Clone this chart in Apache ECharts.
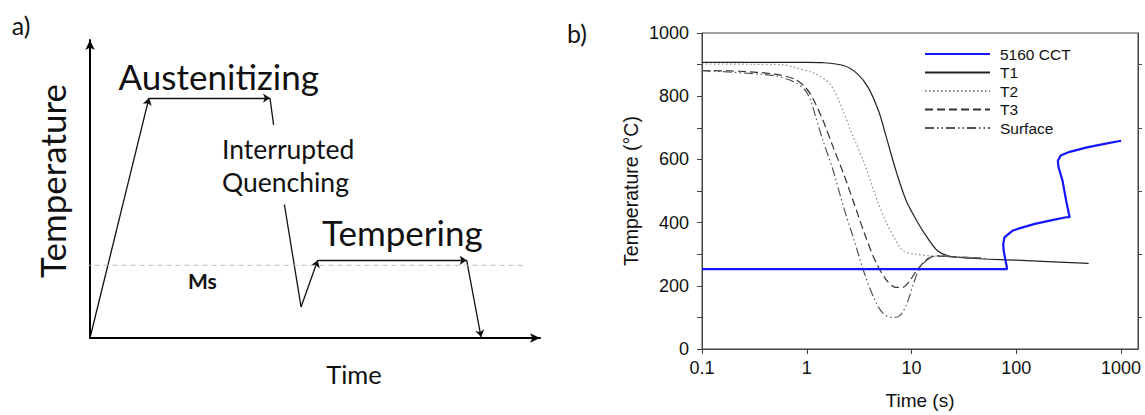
<!DOCTYPE html>
<html>
<head>
<meta charset="utf-8">
<script src="https://cdn.jsdelivr.net/npm/echarts@6/dist/echarts.min.js"></script>
<style>
html,body{margin:0;padding:0;background:#fff;}
#chart{width:1145px;height:415px;}
</style>
</head>
<body>
<div id="chart"></div>
<script>
// ---------- Panel a) schematic (arbitrary units 0..100) ----------
const arrowSegments = [
  [[0, 0], [13.1, 80.5]],
  [[13.1, 80.5], [40, 80.5]],
  [[46.9, 10.4], [50.6, 26.1]],
  [[50.6, 26.1], [83.7, 26.1]],
  [[83.7, 26.1], [86.9, 0.3]]
];
const plainSegments = [
  [[40, 80.5], [40.8, 71.5]],
  [[43.2, 44.8], [46.9, 10.4]]
];
const msLine = [[-3, 24.4], [97, 24.4]];

// ---------- Panel b) cooling curves ----------
const xTickLabels = ['0.1', '1', '10', '100', '1000'];
const seriesNames = ['5160 CCT', 'T1', 'T2', 'T3', 'Surface'];

const cctTime = [0.1, 81.7, 80, 75.7, 75, 77, 91.6, 103, 150, 220, 299, 323, 299, 276, 253, 249, 265, 323, 473, 694, 1000];
const cctTemp = [253, 253, 270, 311, 332, 353, 374, 380, 396, 408, 417, 417, 469, 533, 575, 596, 612, 624, 638, 649, 659];

const t1Time = [0.1, 0.5, 1.0, 1.43, 2.25, 3.06, 3.85, 4.84, 5.64, 7.1, 8.9, 11.2, 14.1, 17.7, 22.3, 32.7, 100, 490];
const t1Temp = [907, 907, 907, 906, 897, 870, 828, 754, 680, 564, 469, 406, 353, 311, 295, 288, 281, 271];

const t2Time = [0.1, 0.3, 0.57, 0.77, 1.22, 1.66, 2.09, 2.63, 3.57, 4.48, 5.64, 7.1, 8.26, 10.4, 15.2, 22.3, 48];
const t2Temp = [902, 901, 900, 891, 870, 839, 775, 691, 585, 490, 406, 343, 311, 301, 295, 293, 288];

const t3Time = [0.1, 0.23, 0.49, 0.77, 0.97, 1.13, 1.43, 1.79, 2.25, 2.84, 3.57, 4.49, 5.64, 7.1, 8.26, 9.6, 11.2, 14.1, 17.7, 22.3, 50];
const t3Temp = [881, 879, 870, 854, 828, 796, 723, 638, 554, 459, 364, 280, 222, 195, 195, 216, 248, 285, 295, 292, 287];

const surfTime = [0.1, 0.49, 0.77, 0.97, 1.09, 1.22, 1.43, 1.79, 2.25, 2.84, 3.57, 4.49, 5.4, 6.6, 7.7, 9.0, 10.4, 12.1, 15.2, 19.2, 24.1, 50];
const surfTemp = [881, 865, 844, 818, 786, 733, 659, 564, 448, 343, 237, 153, 111, 100, 105, 142, 206, 258, 290, 295, 292, 287];

const zip = (a, b) => a.map((v, i) => [v, b[i]]);

const chart = echarts.init(document.getElementById('chart'), null, {renderer: 'svg'});

const schemFont = 'Lato, Carlito, Calibri, sans-serif';
const plotFont = '"Liberation Sans", Arial, sans-serif';

const option = {
  backgroundColor: '#ffffff',
  animation: false,
  grid: [
    {left: 90, top: 40, width: 450, height: 298, show: false},
    {left: 702, top: 33, right: 7, bottom: 66, show: true, borderColor: '#444', borderWidth: 1, backgroundColor: 'transparent'}
  ],
  xAxis: [
    {
      gridIndex: 0, type: 'value', min: 0, max: 100,
      axisLine: {show: true, onZero: false, lineStyle: {color: '#000', width: 2}, symbol: ['none', 'arrow'], symbolSize: [7, 10]},
      axisTick: {show: false}, axisLabel: {show: false}, splitLine: {show: false}
    },
    {
      gridIndex: 1, type: 'log', logBase: 10, min: 0.1, max: 1450,
      axisLine: {show: true, onZero: false, lineStyle: {color: '#444', width: 1}},
      axisTick: {show: true, length: 5, lineStyle: {color: '#444'}},
      splitLine: {show: false},
      axisLabel: {
        color: '#111', fontSize: 18, fontFamily: plotFont, margin: 10,
        showMaxLabel: false,
        formatter: function (v) {
          const e = Math.log10(v);
          if (Math.abs(e - Math.round(e)) > 1e-6) return '';
          const idx = Math.round(e) + 1;
          return xTickLabels[idx] !== undefined ? xTickLabels[idx] : '';
        }
      },
      name: 'Time (s)', nameLocation: 'middle', nameGap: 42,
      nameTextStyle: {color: '#111', fontSize: 19, fontFamily: plotFont}
    }
  ],
  yAxis: [
    {
      gridIndex: 0, type: 'value', min: 0, max: 100,
      axisLine: {show: true, onZero: false, lineStyle: {color: '#000', width: 2}, symbol: ['none', 'arrow'], symbolSize: [7, 10]},
      axisTick: {show: false}, axisLabel: {show: false}, splitLine: {show: false}
    },
    {
      gridIndex: 1, type: 'value', min: 0, max: 1000, interval: 100,
      axisLine: {show: true, onZero: false, lineStyle: {color: '#444', width: 1}},
      axisTick: {show: true, length: 5, lineStyle: {color: '#444'}},
      splitLine: {show: false},
      axisLabel: {
        color: '#111', fontSize: 18, fontFamily: plotFont, margin: 13,
        formatter: function (v) { return v % 200 === 0 ? String(v) : ''; }
      },
      name: 'Temperature (°C)', nameLocation: 'middle', nameGap: 61, nameRotate: 90,
      nameTextStyle: {color: '#111', fontSize: 19.5, fontFamily: plotFont}
    },
    {
      gridIndex: 1, type: 'value', min: 0, max: 1000, interval: 100, position: 'right',
      axisLine: {show: true, onZero: false, lineStyle: {color: '#444', width: 1}},
      axisTick: {show: true, length: 4, lineStyle: {color: '#444'}, customValues: [100, 300, 500, 700, 900]},
      axisLabel: {show: false}, splitLine: {show: false}
    }
  ],
  legend: {
    show: true,
    data: seriesNames,
    orient: 'vertical',
    left: 919, top: 41,
    itemWidth: 65, itemHeight: 14, itemGap: 2.5,
    itemStyle: {opacity: 0, borderWidth: 0},
    textStyle: {color: '#111', fontSize: 15.5, fontFamily: plotFont, padding: [0, 0, 0, 5]},
    selectedMode: false
  },
  series: [
    {
      type: 'line', xAxisIndex: 0, yAxisIndex: 0, data: msLine, clip: false,
      symbol: 'none', silent: true,
      lineStyle: {color: '#bdbdbd', width: 1, type: [5, 4]}
    },
    {
      type: 'lines', coordinateSystem: 'cartesian2d', xAxisIndex: 0, yAxisIndex: 0,
      data: arrowSegments.map(s => ({coords: s})),
      symbol: ['none', 'arrow'], symbolSize: 7, silent: true,
      lineStyle: {color: '#111', width: 1.3, opacity: 1, curveness: 0}
    },
    {
      type: 'lines', coordinateSystem: 'cartesian2d', xAxisIndex: 0, yAxisIndex: 0,
      data: plainSegments.map(s => ({coords: s})),
      symbol: ['none', 'none'], silent: true,
      lineStyle: {color: '#111', width: 1.3, opacity: 1, curveness: 0}
    },
    {
      name: '5160 CCT', type: 'line', xAxisIndex: 1, yAxisIndex: 1,
      data: zip(cctTime, cctTemp), symbol: 'none', smooth: false,
      lineStyle: {color: '#1414ff', width: 2.2}, itemStyle: {color: '#1414ff'}, z: 5
    },
    {
      name: 'T1', type: 'line', xAxisIndex: 1, yAxisIndex: 1,
      data: zip(t1Time, t1Temp), symbol: 'none', smooth: 0.3,
      lineStyle: {color: '#222', width: 1.2}, itemStyle: {color: '#222'}
    },
    {
      name: 'T2', type: 'line', xAxisIndex: 1, yAxisIndex: 1,
      data: zip(t2Time, t2Temp), symbol: 'none', smooth: 0.3,
      lineStyle: {color: '#8a8a8a', width: 1.2, type: [1.5, 2.5]}, itemStyle: {color: '#8a8a8a'}
    },
    {
      name: 'T3', type: 'line', xAxisIndex: 1, yAxisIndex: 1,
      data: zip(t3Time, t3Temp), symbol: 'none', smooth: 0.3,
      lineStyle: {color: '#333', width: 1.2, type: [8, 4]}, itemStyle: {color: '#333'}
    },
    {
      name: 'Surface', type: 'line', xAxisIndex: 1, yAxisIndex: 1,
      data: zip(surfTime, surfTemp), symbol: 'none', smooth: 0.3,
      lineStyle: {color: '#555', width: 1.2, type: [9, 3, 1.5, 3, 1.5, 3]}, itemStyle: {color: '#555'}
    }
  ],
  graphic: [
    {type: 'text', x: 21, y: 25, style: {text: 'a)', fontSize: 25, fontFamily: schemFont, fill: '#111', align: 'center', verticalAlign: 'middle'}},
    {type: 'text', x: 577, y: 33, style: {text: 'b)', fontSize: 25, fontFamily: schemFont, fill: '#111', align: 'center', verticalAlign: 'middle'}},
    {type: 'text', x: 118.6, y: 75.5, style: {text: 'Austenitizing', fontSize: 35, fontFamily: schemFont, fill: '#111', align: 'left', verticalAlign: 'middle'}},
    {type: 'text', x: 222, y: 149, style: {text: 'Interrupted', fontSize: 26.5, fontFamily: schemFont, fill: '#111', align: 'left', verticalAlign: 'middle'}},
    {type: 'text', x: 222, y: 182, style: {text: 'Quenching', fontSize: 26.5, fontFamily: schemFont, fill: '#111', align: 'left', verticalAlign: 'middle'}},
    {type: 'text', x: 322, y: 232, style: {text: 'Tempering', fontSize: 35, fontFamily: schemFont, fill: '#111', align: 'left', verticalAlign: 'middle'}},
    {type: 'text', x: 188, y: 280, style: {text: 'Ms', fontSize: 21, fontWeight: 'bold', fontFamily: schemFont, fill: '#111', align: 'left', verticalAlign: 'middle'}},
    {type: 'text', x: 354, y: 374, style: {text: 'Time', fontSize: 25.5, fontFamily: schemFont, fill: '#111', align: 'center', verticalAlign: 'middle'}},
    {type: 'text', x: 52, y: 181, rotation: Math.PI / 2, style: {text: 'Temperature', fontSize: 35, fontFamily: schemFont, fill: '#111', align: 'center', verticalAlign: 'middle'}}
  ]
};

chart.setOption(option);
</script>
</body>
</html>
